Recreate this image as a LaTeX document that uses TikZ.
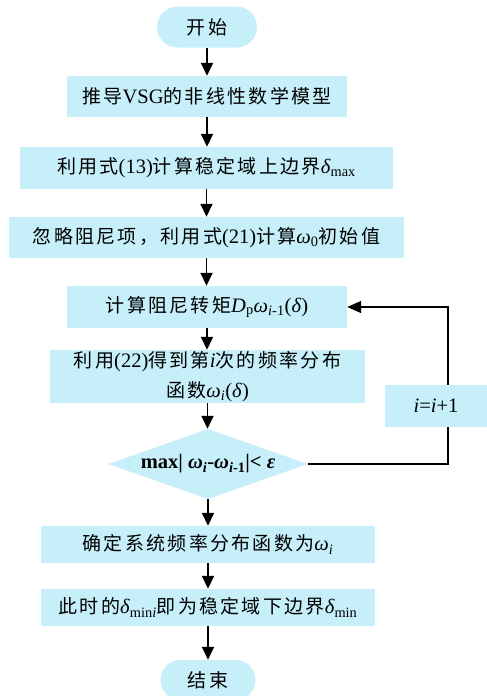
\documentclass[tikz,border=0pt]{standalone}
\usepackage{fontspec}
\setmainfont[Scale=1.08]{Liberation Serif}
\newfontfamily\cjk[LetterSpace=12]{Noto Sans CJK SC}
\usetikzlibrary{arrows.meta,shapes.geometric}
\definecolor{boxc}{HTML}{C6EFFA}
\newcommand\zh[1]{{\cjk #1}}
\begin{document}
\begin{tikzpicture}[x=1pt,y=-1pt, font=\fontsize{19}{30}\selectfont,
 box/.style={fill=boxc, draw=none, inner sep=0pt, minimum height=42pt, align=center},
 arr/.style={line width=1.6pt, -{Triangle[width=12pt,length=13pt]}},
 loopline/.style={line width=1.4pt, -{Triangle[width=12pt,length=14pt]}},
]
\useasboundingbox (0,0) rectangle (487,696);
\node[box, rounded corners=20.5pt, minimum width=100pt, minimum height=41pt] (start) at (207,27) {\zh{开始}};
\node[box, minimum width=280pt, minimum height=41pt] (b1) at (207,96.5) {\zh{推导}VSG\zh{的非线性数学模型}};
\node[box, minimum width=373pt, minimum height=42pt] (b2) at (206.5,168) {\zh{利用式}(13)\zh{计算稳定域上边界}\textit{δ}\textsubscript{max}};
\node[box, minimum width=395pt, minimum height=41pt] (b3) at (206.5,237.5) {\zh{忽略阻尼项，利用式}(21)\zh{计算}\textit{ω}\textsubscript{0}\zh{初始值}};
\node[box, minimum width=280pt, minimum height=42pt] (b4) at (207,307) {\zh{计算阻尼转矩}\textit{D}\textsubscript{p}\textit{ω}\textsubscript{\textit{i}-1}(\textit{δ})};
\node[box, minimum width=315pt, minimum height=53pt] (b5) at (207.5,376.5) {\zh{利用}(22)\zh{得到第}\textit{i}\zh{次的频率分布}\\\zh{函数}\textit{ω}\textsubscript{\textit{i}}(\textit{δ})};
\node[box, shape=diamond, aspect=2.857, minimum width=200pt, minimum height=70pt] (dia) at (208,464) {\textbf{max| \textit{ω}\textsubscript{\textit{i}}-\textit{ω}\textsubscript{\textit{i}-1}|< \textit{ε}}};
\node[box, minimum width=334pt, minimum height=37pt] (b6) at (208,544.5) {\zh{确定系统频率分布函数为}\textit{ω}\textsubscript{\textit{i}}};
\node[box, minimum width=334pt, minimum height=37pt] (b7) at (208,607.5) {\zh{此时的}\textit{δ}\textsubscript{min\textit{i}}\zh{即为稳定域下边界}\textit{δ}\textsubscript{min}};
\node[box, rounded corners=20pt, minimum width=95pt, minimum height=40pt] (end) at (208,680) {\zh{结束}};
\coordinate (c1) at (448,465);
\draw[arr] (start) -- (start |- b1.north);
\draw[arr] (b1) -- (b1 |- b2.north);
\draw[arr] (b2) -- (b2 |- b3.north);
\draw[arr] (b3) -- (b3 |- b4.north);
\draw[arr] (b4) -- (b4 |- b5.north);
\draw[arr] (b5) -- (b5 |- dia.north);
\draw[arr] (dia) -- (dia |- b6.north);
\draw[arr] (b6) -- (b6 |- b7.north);
\draw[arr] (b7) -- (b7 |- end.north);
\draw[loopline] (dia.east) -- (dia.east -| c1) |- (b4.east);
\node[box, minimum width=102pt, minimum height=42pt] (inc) at (436,406) {\textit{i}=\textit{i}+1};
\end{tikzpicture}
\end{document}
